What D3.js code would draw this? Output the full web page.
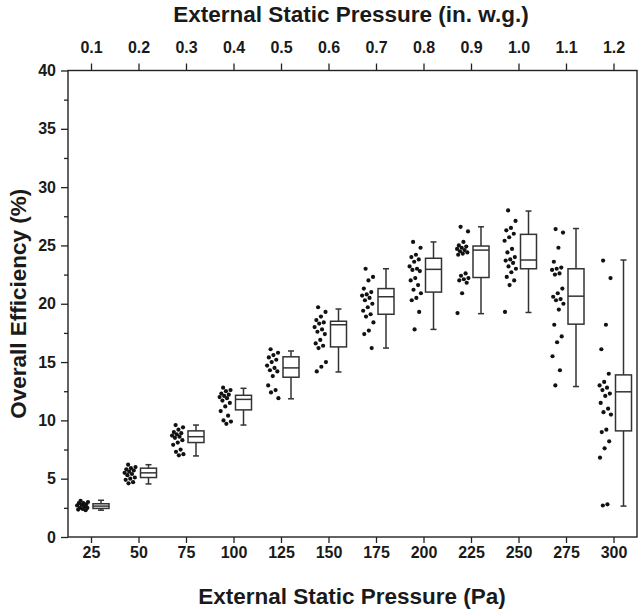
<!DOCTYPE html>
<html>
<head>
<meta charset="utf-8">
<script src="https://cdn.jsdelivr.net/npm/d3@7"></script>
<style>
  body { margin:0; background:#fff; }
  text { font-family:"Liberation Sans", Arial, sans-serif; font-weight:bold; fill:#1a1a1a; }
</style>
</head>
<body>
<script>
// categorieen (Pa) en de bovenste as (in. w.g.)
var pressurePa = [25,50,75,100,125,150,175,200,225,250,275,300];
var pressureInWg = ["0.1","0.2","0.3","0.4","0.5","0.6","0.7","0.8","0.9","1.0","1.1","1.2"];

// box statistieken
var whiskerLow  = [2.3, 4.55, 6.95, 9.6, 11.85, 14.15, 16.2, 17.8, 19.15, 19.25, 12.9, 2.65];
var boxQ1       = [2.45, 5.1, 8.1, 10.9, 13.7, 16.3, 19.1, 21.0, 22.25, 23.0, 18.25, 9.1];
var boxMedian   = [2.65, 5.5, 8.6, 11.8, 14.5, 18.2, 20.6, 22.95, 24.6, 23.75, 20.65, 12.45];
var boxQ3       = [2.85, 5.9, 9.1, 12.15, 15.45, 18.5, 21.3, 23.9, 24.95, 25.95, 23.0, 13.9];
var whiskerHigh = [3.15, 6.2, 9.6, 12.75, 15.95, 19.55, 23.0, 25.3, 26.6, 27.95, 26.45, 23.75];

// losse meetpunten per categorie
var pts25  = [3.1, 3.0, 2.9, 2.9, 2.8, 2.75, 2.7, 2.6, 2.5, 2.5, 2.4, 2.35, 2.3];
var pts50  = [6.2, 6.0, 5.9, 5.8, 5.7, 5.6, 5.5, 5.4, 5.3, 5.1, 5.0, 4.9, 4.7, 4.6];
var pts75  = [9.6, 9.4, 9.2, 9.0, 8.9, 8.8, 8.7, 8.6, 8.5, 8.3, 8.1, 7.9, 7.5, 7.3, 7.1, 7.0];
var pts100 = [12.8, 12.6, 12.5, 12.3, 12.2, 12.1, 12.0, 11.9, 11.7, 11.5, 11.2, 10.8, 10.4, 10.0, 9.9, 9.7];
var pts125 = [16.1, 15.8, 15.6, 15.4, 15.2, 15.0, 14.7, 14.5, 14.3, 14.2, 13.8, 13.0, 12.6, 12.4, 11.9];
var pts150 = [19.7, 19.3, 18.9, 18.6, 18.4, 18.3, 18.0, 17.8, 17.6, 17.4, 16.9, 16.6, 16.4, 16.2, 15.0, 14.6, 14.2];
var pts175 = [23.0, 22.3, 22.0, 21.3, 21.0, 20.8, 20.7, 20.5, 20.3, 20.0, 19.7, 19.4, 19.1, 18.9, 18.4, 17.7, 17.4, 16.2];
var pts200 = [25.3, 24.8, 24.2, 24.0, 23.8, 23.6, 23.2, 23.0, 22.9, 22.8, 22.2, 22.0, 21.6, 21.2, 20.9, 20.5, 20.3, 19.3, 17.8];
var pts225 = [26.6, 26.2, 25.3, 25.0, 24.9, 24.8, 24.7, 24.6, 24.5, 24.4, 24.3, 24.2, 22.6, 22.4, 22.2, 22.1, 22.0, 21.8, 20.9, 19.2];
var pts250 = [28.0, 27.1, 26.5, 26.3, 26.0, 25.7, 25.4, 24.7, 24.4, 24.0, 23.8, 23.7, 23.5, 23.2, 23.0, 22.7, 22.3, 22.0, 21.6, 19.3];
var pts275 = [26.4, 26.1, 24.8, 23.6, 23.1, 23.0, 22.9, 22.6, 22.5, 21.3, 20.9, 20.6, 20.4, 20.3, 20.0, 19.5, 18.2, 17.2, 16.7, 15.5, 14.3, 13.0];
var pts300 = [23.7, 22.2, 18.2, 16.1, 14.0, 13.3, 13.0, 12.8, 12.6, 12.3, 12.1, 11.5, 11.0, 10.7, 10.5, 9.2, 9.0, 8.2, 7.6, 6.8, 2.8, 2.7];
var allPoints = [pts25, pts50, pts75, pts100, pts125, pts150, pts175, pts200, pts225, pts250, pts275, pts300];

var width = 639, height = 611;
var frame = {left:68, right:637, top:70.5, bottom:537};

var svg = d3.select("body").append("svg").attr("width",width).attr("height",height);

// schalen
var x = d3.scalePoint().domain(pressurePa).range([91,613.5]);
var y = d3.scaleLinear().domain([0,40]).range([frame.bottom,frame.top]);

// assen
var xAxis = d3.axisBottom(x).tickSize(6).tickSizeOuter(0).tickPadding(4);
var xTop = d3.axisTop(x).tickSize(7).tickSizeOuter(0).tickPadding(11)
              .tickFormat(function(d,i){ return pressureInWg[i]; });
var yAxis = d3.axisLeft(y).tickValues(d3.range(0,41,5)).tickSize(7).tickSizeOuter(0).tickPadding(5);
var yMinor = d3.axisLeft(y).tickValues(d3.range(2.5,40,5)).tickSize(4).tickFormat("");

var gx = svg.append("g").attr("transform","translate(0,"+frame.bottom+")").call(xAxis);
var gt = svg.append("g").attr("transform","translate(0,"+frame.top+")").call(xTop);
var gy = svg.append("g").attr("transform","translate("+frame.left+",0)").call(yAxis);
var gm = svg.append("g").attr("transform","translate("+frame.left+",0)").call(yMinor);

[gx,gt,gy,gm].forEach(function(g){
  g.select(".domain").remove();
  g.selectAll("line").attr("stroke","#222").attr("stroke-width",1.3);
  g.selectAll("text").style("font-size","16px").attr("fill","#1a1a1a");
});

// kader rond het plotgebied
svg.append("rect")
   .attr("x",frame.left).attr("y",frame.top)
   .attr("width",frame.right-frame.left).attr("height",frame.bottom-frame.top)
   .attr("fill","none").attr("stroke","#222").attr("stroke-width",1.4);

// astitels
svg.append("text").attr("x",351).attr("y",22).attr("text-anchor","middle")
   .style("font-size","22.5px").text("External Static Pressure (in. w.g.)");
svg.append("text").attr("x",352).attr("y",604).attr("text-anchor","middle")
   .style("font-size","22.5px").text("External Static Pressure (Pa)");
svg.append("text").attr("transform","translate(26,"+(frame.top+frame.bottom)/2+") rotate(-90)")
   .attr("text-anchor","middle").style("font-size","22.5px").text("Overall Efficiency (%)");

// box plots
var boxOffset = 10, boxW = 16, capW = 6;
var boxes = svg.append("g").selectAll("g").data(pressurePa).enter().append("g")
   .attr("stroke","#333").attr("stroke-width",1.5).attr("fill","none");

boxes.append("line")
   .attr("x1",function(d){ return x(d)+boxOffset; }).attr("x2",function(d){ return x(d)+boxOffset; })
   .attr("y1",function(d,i){ return y(whiskerLow[i]); }).attr("y2",function(d,i){ return y(whiskerHigh[i]); });
boxes.append("line")
   .attr("x1",function(d){ return x(d)+boxOffset-capW/2; }).attr("x2",function(d){ return x(d)+boxOffset+capW/2; })
   .attr("y1",function(d,i){ return y(whiskerLow[i]); }).attr("y2",function(d,i){ return y(whiskerLow[i]); });
boxes.append("line")
   .attr("x1",function(d){ return x(d)+boxOffset-capW/2; }).attr("x2",function(d){ return x(d)+boxOffset+capW/2; })
   .attr("y1",function(d,i){ return y(whiskerHigh[i]); }).attr("y2",function(d,i){ return y(whiskerHigh[i]); });
boxes.append("rect")
   .attr("x",function(d){ return x(d)+boxOffset-boxW/2; }).attr("width",boxW)
   .attr("y",function(d,i){ return y(boxQ3[i]); })
   .attr("height",function(d,i){ return y(boxQ1[i])-y(boxQ3[i]); })
   .attr("fill","#fff");
boxes.append("line")
   .attr("x1",function(d){ return x(d)+boxOffset-boxW/2; }).attr("x2",function(d){ return x(d)+boxOffset+boxW/2; })
   .attr("y1",function(d,i){ return y(boxMedian[i]); }).attr("y2",function(d,i){ return y(boxMedian[i]); });

// punten naast de box, vaste spreiding (geen random)
var jitter = function(i){ return -14 + 12*((i*0.618034+0.3)%1); };
svg.append("g").selectAll("g").data(allPoints).enter().append("g")
   .each(function(vals,k){
     d3.select(this).selectAll("circle").data(vals).enter().append("circle")
       .attr("cx",function(v,i){ return x(pressurePa[k])+jitter(i); })
       .attr("cy",function(v){ return y(v); })
       .attr("r",2.1)
       .attr("fill","#111");
   });
</script>
</body>
</html>
